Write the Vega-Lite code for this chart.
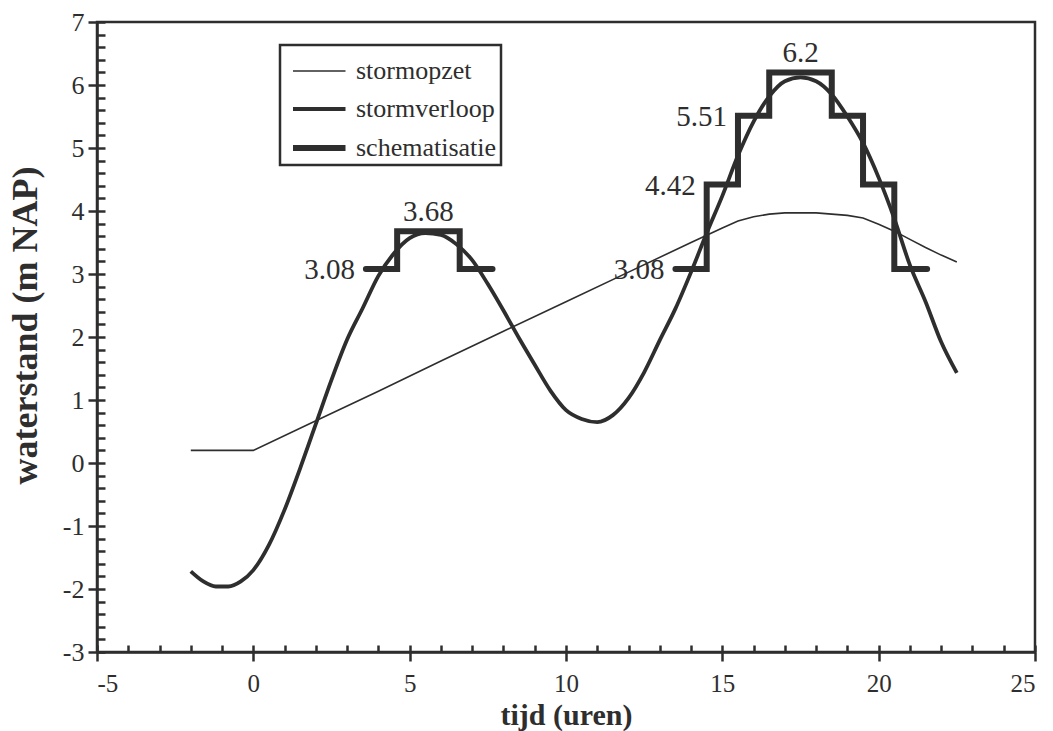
{
  "$schema": "https://vega.github.io/schema/vega-lite/v6.json",
  "width": 938,
  "height": 630,
  "autosize": {"type": "none"},
  "padding": {"left": 97, "top": 22, "right": 18, "bottom": 79},
  "background": "white",
  "datasets": {
    "opzet": [
      {"serie": "stormopzet", "t": -2, "h": 0.2},
      {"serie": "stormopzet", "t": 0, "h": 0.2},
      {"serie": "stormopzet", "t": 2, "h": 0.67},
      {"serie": "stormopzet", "t": 4, "h": 1.14},
      {"serie": "stormopzet", "t": 6, "h": 1.62},
      {"serie": "stormopzet", "t": 8, "h": 2.09},
      {"serie": "stormopzet", "t": 10, "h": 2.56},
      {"serie": "stormopzet", "t": 12, "h": 3.03},
      {"serie": "stormopzet", "t": 14, "h": 3.5},
      {"serie": "stormopzet", "t": 15, "h": 3.73},
      {"serie": "stormopzet", "t": 15.5, "h": 3.84},
      {"serie": "stormopzet", "t": 16, "h": 3.91},
      {"serie": "stormopzet", "t": 16.5, "h": 3.95},
      {"serie": "stormopzet", "t": 17, "h": 3.97},
      {"serie": "stormopzet", "t": 17.5, "h": 3.97},
      {"serie": "stormopzet", "t": 18, "h": 3.97},
      {"serie": "stormopzet", "t": 18.5, "h": 3.95},
      {"serie": "stormopzet", "t": 19, "h": 3.93},
      {"serie": "stormopzet", "t": 19.5, "h": 3.89},
      {"serie": "stormopzet", "t": 20, "h": 3.79},
      {"serie": "stormopzet", "t": 20.5, "h": 3.68},
      {"serie": "stormopzet", "t": 21, "h": 3.55},
      {"serie": "stormopzet", "t": 21.5, "h": 3.42},
      {"serie": "stormopzet", "t": 22, "h": 3.3},
      {"serie": "stormopzet", "t": 22.5, "h": 3.19}
    ],
    "verloop": [
      {"serie": "stormverloop", "t": -2, "h": -1.72},
      {"serie": "stormverloop", "t": -1.6, "h": -1.88},
      {"serie": "stormverloop", "t": -1.2, "h": -1.96},
      {"serie": "stormverloop", "t": -0.8, "h": -1.96},
      {"serie": "stormverloop", "t": -0.4, "h": -1.88},
      {"serie": "stormverloop", "t": 0, "h": -1.7},
      {"serie": "stormverloop", "t": 0.5, "h": -1.3},
      {"serie": "stormverloop", "t": 1, "h": -0.74},
      {"serie": "stormverloop", "t": 1.5, "h": -0.08},
      {"serie": "stormverloop", "t": 2, "h": 0.62},
      {"serie": "stormverloop", "t": 2.5, "h": 1.32},
      {"serie": "stormverloop", "t": 3, "h": 1.96},
      {"serie": "stormverloop", "t": 3.5, "h": 2.46},
      {"serie": "stormverloop", "t": 4, "h": 2.97},
      {"serie": "stormverloop", "t": 4.5, "h": 3.33},
      {"serie": "stormverloop", "t": 5, "h": 3.57},
      {"serie": "stormverloop", "t": 5.5, "h": 3.65},
      {"serie": "stormverloop", "t": 6, "h": 3.62},
      {"serie": "stormverloop", "t": 6.5, "h": 3.47},
      {"serie": "stormverloop", "t": 7, "h": 3.22},
      {"serie": "stormverloop", "t": 7.5, "h": 2.84},
      {"serie": "stormverloop", "t": 8, "h": 2.42},
      {"serie": "stormverloop", "t": 8.5, "h": 1.98},
      {"serie": "stormverloop", "t": 9, "h": 1.56},
      {"serie": "stormverloop", "t": 9.5, "h": 1.15},
      {"serie": "stormverloop", "t": 10, "h": 0.84},
      {"serie": "stormverloop", "t": 10.5, "h": 0.7},
      {"serie": "stormverloop", "t": 11, "h": 0.65},
      {"serie": "stormverloop", "t": 11.5, "h": 0.76},
      {"serie": "stormverloop", "t": 12, "h": 1.03},
      {"serie": "stormverloop", "t": 12.5, "h": 1.44},
      {"serie": "stormverloop", "t": 13, "h": 1.95},
      {"serie": "stormverloop", "t": 13.5, "h": 2.45},
      {"serie": "stormverloop", "t": 14, "h": 3.03},
      {"serie": "stormverloop", "t": 14.5, "h": 3.65},
      {"serie": "stormverloop", "t": 15, "h": 4.24},
      {"serie": "stormverloop", "t": 15.5, "h": 4.88},
      {"serie": "stormverloop", "t": 16, "h": 5.42},
      {"serie": "stormverloop", "t": 16.5, "h": 5.82},
      {"serie": "stormverloop", "t": 17, "h": 6.06},
      {"serie": "stormverloop", "t": 17.5, "h": 6.12},
      {"serie": "stormverloop", "t": 18, "h": 6.06},
      {"serie": "stormverloop", "t": 18.5, "h": 5.85},
      {"serie": "stormverloop", "t": 19, "h": 5.5},
      {"serie": "stormverloop", "t": 19.5, "h": 5.08},
      {"serie": "stormverloop", "t": 20, "h": 4.53},
      {"serie": "stormverloop", "t": 20.5, "h": 3.88},
      {"serie": "stormverloop", "t": 21, "h": 3.14},
      {"serie": "stormverloop", "t": 21.5, "h": 2.56},
      {"serie": "stormverloop", "t": 22, "h": 1.92},
      {"serie": "stormverloop", "t": 22.5, "h": 1.43}
    ],
    "schema": [
      {"serie": "schematisatie", "seg": 1, "t": 3.6, "h": 3.08},
      {"serie": "schematisatie", "seg": 1, "t": 4.6, "h": 3.68},
      {"serie": "schematisatie", "seg": 1, "t": 6.6, "h": 3.08},
      {"serie": "schematisatie", "seg": 1, "t": 7.65, "h": 3.08},
      {"serie": "schematisatie", "seg": 2, "t": 13.5, "h": 3.08},
      {"serie": "schematisatie", "seg": 2, "t": 14.5, "h": 4.42},
      {"serie": "schematisatie", "seg": 2, "t": 15.5, "h": 5.51},
      {"serie": "schematisatie", "seg": 2, "t": 16.5, "h": 6.2},
      {"serie": "schematisatie", "seg": 2, "t": 18.5, "h": 5.51},
      {"serie": "schematisatie", "seg": 2, "t": 19.5, "h": 4.42},
      {"serie": "schematisatie", "seg": 2, "t": 20.5, "h": 3.08},
      {"serie": "schematisatie", "seg": 2, "t": 21.55, "h": 3.08}
    ],
    "labelsLeft": [
      {"label": "3.08", "t": 3.6, "h": 3.08},
      {"label": "3.08", "t": 13.5, "h": 3.08},
      {"label": "4.42", "t": 14.5, "h": 4.42},
      {"label": "5.51", "t": 15.5, "h": 5.51}
    ],
    "labelsTop": [
      {"label": "3.68", "t": 5.6, "h": 3.68},
      {"label": "6.2", "t": 17.5, "h": 6.2}
    ]
  },
  "layer": [
    {
      "mark": {"type": "rule", "color": "#2e2e2e", "strokeWidth": 1.6},
      "encoding": {
        "x": {
          "datum": 0, "type": "quantitative",
          "scale": {"domain": [-5, 25], "nice": false, "zero": false},
          "axis": {
            "orient": "bottom",
            "values": [-5, 0, 5, 10, 15, 20, 25],
            "labelExpr": "'' + datum.value",
            "tickSize": 9, "tickWidth": 2.5, "tickColor": "#2e2e2e",
            "domain": true, "domainWidth": 2.5, "domainColor": "#2e2e2e",
            "grid": false,
            "labelFont": "Liberation Serif", "labelFontSize": 25, "labelColor": "#2e2e2e",
            "labelPadding": 10,
            "title": "tijd (uren)",
            "titleFont": "Liberation Serif", "titleFontSize": 30, "titleFontWeight": "bold", "titleColor": "#2e2e2e",
            "titleY": 72, "titleBaseline": "alphabetic"
          }
        }
      }
    },
    {
      "mark": {"type": "rule", "color": "#2e2e2e", "strokeWidth": 1.6},
      "encoding": {
        "y": {
          "datum": 0, "type": "quantitative",
          "scale": {"domain": [-3, 7], "nice": false, "zero": false},
          "axis": {
            "orient": "left",
            "values": [-3, -2, -1, 0, 1, 2, 3, 4, 5, 6, 7],
            "labelExpr": "'' + datum.value",
            "tickSize": 9, "tickWidth": 2.5, "tickColor": "#2e2e2e",
            "domain": true, "domainWidth": 2.5, "domainColor": "#2e2e2e",
            "grid": false,
            "labelFont": "Liberation Serif", "labelFontSize": 26, "labelColor": "#2e2e2e",
            "labelPadding": 4,
            "title": "waterstand (m NAP)",
            "titleFont": "Liberation Serif", "titleFontSize": 36, "titleFontWeight": "bold", "titleColor": "#2e2e2e",
            "titleX": -72, "titleY": 303, "titleAlign": "center", "titleBaseline": "middle", "titleAngle": -90
          }
        }
      }
    },
    {
      "data": {"name": "opzet"},
      "mark": {"type": "line", "color": "#2e2e2e"},
      "encoding": {
        "x": {
          "field": "t", "type": "quantitative",
          "scale": {"domain": [-5, 25], "nice": false, "zero": false},
          "axis": {
            "orient": "bottom",
            "values": [-5, -4, -3, -2, -1, 0, 1, 2, 3, 4, 5, 6, 7, 8, 9, 10, 11, 12, 13, 14, 15, 16, 17, 18, 19, 20, 21, 22, 23, 24, 25],
            "tickSize": -7, "tickWidth": 2.5, "tickColor": "#2e2e2e",
            "labels": false, "domain": false, "grid": false, "title": null
          }
        },
        "y": {
          "field": "h", "type": "quantitative",
          "scale": {"domain": [-3, 7], "nice": false, "zero": false},
          "axis": {
            "orient": "left",
            "values": [-3, -2.8, -2.6, -2.4, -2.2, -2, -1.8, -1.6, -1.4, -1.2, -1, -0.8, -0.6, -0.4, -0.2, 0, 0.2, 0.4, 0.6, 0.8, 1, 1.2, 1.4, 1.6, 1.8, 2, 2.2, 2.4, 2.6, 2.8, 3, 3.2, 3.4, 3.6, 3.8, 4, 4.2, 4.4, 4.6, 4.8, 5, 5.2, 5.4, 5.6, 5.8, 6, 6.2, 6.4, 6.6, 6.8, 7],
            "tickSize": -8, "tickWidth": 2.5, "tickColor": "#2e2e2e",
            "labels": false, "domain": false, "grid": false, "title": null
          }
        },
        "strokeWidth": {
          "field": "serie", "type": "ordinal",
          "scale": {"type": "point", "domain": ["stormopzet", "stormverloop", "schematisatie"], "range": [1.6, 6], "padding": 0},
          "legend": {
            "title": null, "orient": "none", "legendX": 183, "legendY": 23, "direction": "vertical",
            "padding": 4, "strokeColor": "#2e2e2e",
            "symbolType": "M-1,0H1.5", "symbolSize": 1764, "symbolStrokeColor": "#2e2e2e", "symbolFillColor": "transparent",
            "symbolOffset": 6, "labelOffset": 18, "rowPadding": 2,
            "labelFont": "Liberation Serif", "labelFontSize": 26, "labelColor": "#2e2e2e", "labelLimit": 300
          }
        }
      }
    },
    {
      "data": {"name": "verloop"},
      "mark": {"type": "line", "color": "#2e2e2e", "strokeJoin": "round", "interpolate": "monotone"},
      "encoding": {
        "x": {"field": "t", "type": "quantitative", "axis": null},
        "y": {"field": "h", "type": "quantitative", "axis": null},
        "strokeWidth": {
          "field": "serie", "type": "ordinal",
          "scale": {"type": "point", "domain": ["stormopzet", "stormverloop", "schematisatie"], "range": [1.6, 6], "padding": 0},
          "legend": {
            "title": null, "orient": "none", "legendX": 183, "legendY": 23, "direction": "vertical",
            "padding": 4, "strokeColor": "#2e2e2e",
            "symbolType": "M-1,0H1.5", "symbolSize": 1764, "symbolStrokeColor": "#2e2e2e", "symbolFillColor": "transparent",
            "symbolOffset": 6, "labelOffset": 18, "rowPadding": 2,
            "labelFont": "Liberation Serif", "labelFontSize": 26, "labelColor": "#2e2e2e", "labelLimit": 300
          }
        }
      }
    },
    {
      "data": {"name": "schema"},
      "mark": {"type": "line", "color": "#2e2e2e", "interpolate": "step-after", "strokeJoin": "miter", "strokeCap": "round"},
      "encoding": {
        "x": {"field": "t", "type": "quantitative", "axis": null},
        "y": {"field": "h", "type": "quantitative", "axis": null},
        "detail": {"field": "seg", "type": "nominal"},
        "strokeWidth": {
          "field": "serie", "type": "ordinal",
          "scale": {"type": "point", "domain": ["stormopzet", "stormverloop", "schematisatie"], "range": [1.6, 6], "padding": 0},
          "legend": {
            "title": null, "orient": "none", "legendX": 183, "legendY": 23, "direction": "vertical",
            "padding": 4, "strokeColor": "#2e2e2e",
            "symbolType": "M-1,0H1.5", "symbolSize": 1764, "symbolStrokeColor": "#2e2e2e", "symbolFillColor": "transparent",
            "symbolOffset": 6, "labelOffset": 18, "rowPadding": 2,
            "labelFont": "Liberation Serif", "labelFontSize": 26, "labelColor": "#2e2e2e", "labelLimit": 300
          }
        }
      }
    },
    {
      "data": {"name": "labelsLeft"},
      "mark": {"type": "text", "align": "right", "baseline": "middle", "dx": -11, "dy": 1, "font": "Liberation Serif", "fontSize": 29, "color": "#2e2e2e"},
      "encoding": {
        "x": {"field": "t", "type": "quantitative", "axis": null},
        "y": {"field": "h", "type": "quantitative", "axis": null},
        "text": {"field": "label", "type": "nominal"}
      }
    },
    {
      "data": {"name": "labelsTop"},
      "mark": {"type": "text", "align": "center", "baseline": "alphabetic", "dy": -10, "font": "Liberation Serif", "fontSize": 29, "color": "#2e2e2e"},
      "encoding": {
        "x": {"field": "t", "type": "quantitative", "axis": null},
        "y": {"field": "h", "type": "quantitative", "axis": null},
        "text": {"field": "label", "type": "nominal"}
      }
    }
  ],
  "resolve": {"axis": {"x": "independent", "y": "independent"}},
  "config": {
    "view": {"stroke": "#2e2e2e", "strokeWidth": 2.5},
    "legend": {"strokeWidth": 2.5}
  }
}
